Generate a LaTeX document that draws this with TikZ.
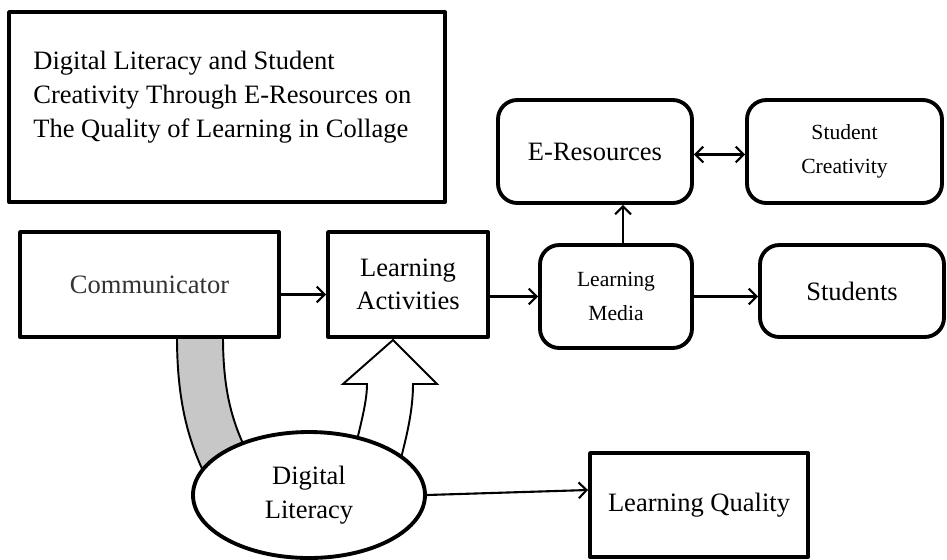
\documentclass[tikz,border=0pt]{standalone}
\usepackage{fontspec}
\setmainfont{Liberation Serif}
\usetikzlibrary{shapes.geometric,backgrounds,arrows.meta}
\newcommand{\px}{0.02cm}
\begin{document}
\begin{tikzpicture}[x=\px, y=-\px, line cap=round, line join=round, >={Straight Barb[length=4.5pt,width=9pt]}, font=\fontsize{15.1}{18.7}\selectfont]
	\tikzset{box/.style={draw, line width=2.2pt, fill=white, inner sep=0pt, align=center},
		roundbox/.style={box, rounded corners=11pt},
		small/.style={font=\fontsize{12.3}{19}\selectfont},
		link/.style={->, line width=1.2pt}}
	\useasboundingbox (0,0) rectangle (947,559);
	\node[box, minimum width=436*\px, minimum height=190*\px] (title) at (227,107) {};
	\node[anchor=north west, inner sep=0pt, align=left, font=\fontsize{15.1}{19.3}\selectfont] (titletext) at (33,51) {Digital Literacy and Student\\Creativity Through E-Resources on\\The Quality of Learning in Collage};
	\node[box, text=black!80, minimum width=259*\px, minimum height=105*\px] (comm) at (149.5,284.5) {Communicator};
	\node[box, minimum width=160*\px, minimum height=105*\px] (act) at (408,284.5) {Learning\\Activities};
	\node[roundbox, small, minimum width=152*\px, minimum height=103*\px] (media) at (616,296.5) {Learning\\Media};
	\node[roundbox, minimum width=194*\px, minimum height=103*\px] (eres) at (595,151.5) {E-Resources};
	\node[roundbox, small, minimum width=195*\px, minimum height=103*\px] (creat) at (844.5,151.5) {Student\\Creativity};
	\node[roundbox, minimum width=184*\px, minimum height=92*\px] (stud) at (852,291) {Students};
	\node[box, minimum width=218*\px, minimum height=104*\px] (quality) at (699,505) {Learning Quality};
	\node[box, ellipse, minimum width=232*\px, minimum height=126*\px, font=\fontsize{15.1}{19.3}\selectfont] (lit) at (309,495) {Digital\\Literacy};
	% band and block arrow behind the nodes
	\begin{scope}[on background layer]
		\draw[line width=1.1pt, fill=black!22] (177,337) .. controls (177,400) and (188,440) .. (205,475) -- (245,448) .. controls (232,420) and (223,390) .. (223,337);
		\draw[line width=1.1pt, fill=white] (354,452) .. controls (362,420) and (367,400) .. (367,384) -- (343,384) -- (393,340) -- (437,384) -- (413,384) .. controls (413,410) and (407,435) .. (400,462);
	\end{scope}
	\draw[link] ([yshift=-10*\px]comm.east) -- ([yshift=-10*\px]act.west);
	\draw[link] (act.east |- media.west) -- (media.west);
	\draw[link] (media.east) -- (media.east -| stud.west);
	\draw[link] ([xshift=7*\px]media.north) -- ([xshift=7*\px]media.north |- eres.south);
	\draw[link, <->] ([yshift=-3*\px]eres.east) -- ([yshift=-3*\px]creat.west);
	\draw[link] (lit.east) -- ([yshift=15*\px]quality.west);
\end{tikzpicture}
\end{document}
